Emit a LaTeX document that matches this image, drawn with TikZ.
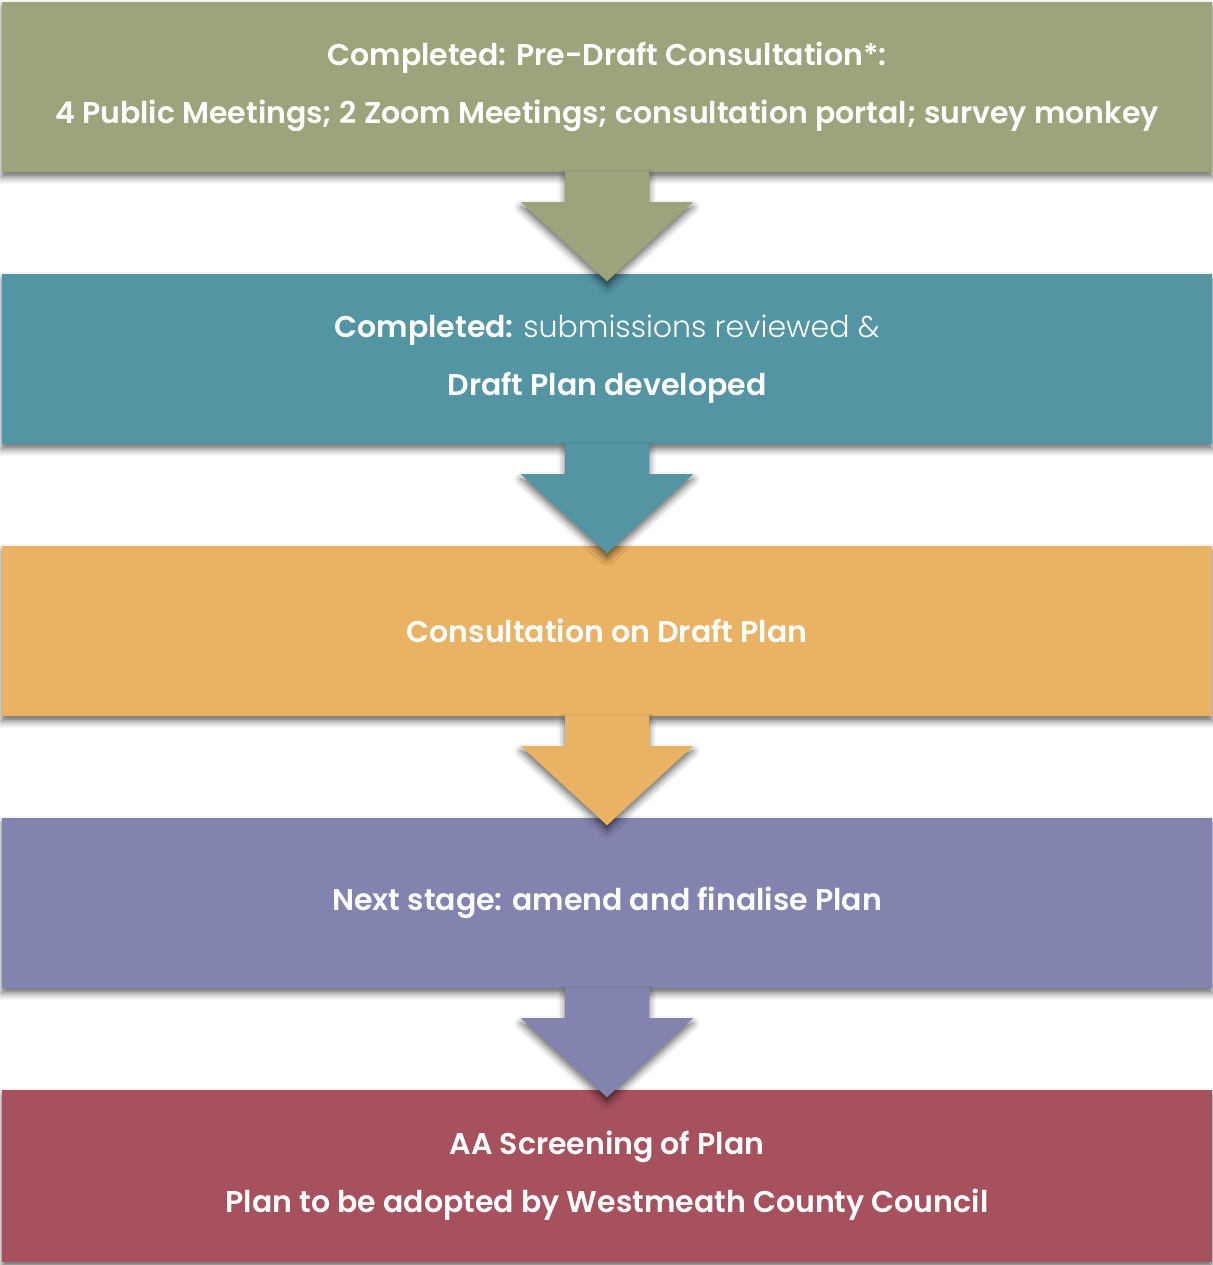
\documentclass[tikz,border=0pt]{standalone}
\usepackage{fontspec}
\setmainfont{Poppins}[BoldFont={Poppins SemiBold}]
\newfontfamily\lightfont{Poppins Light}
\usetikzlibrary{shadows.blur,calc}
\definecolor{cOlive}{RGB}{158,163,123}
\definecolor{cTeal}{RGB}{83,149,163}
\definecolor{cOrange}{RGB}{233,179,99}
\definecolor{cPurple}{RGB}{131,131,176}
\definecolor{cRed}{RGB}{168,81,94}
\tikzset{
  stage/.style={rectangle, minimum width=1210pt, minimum height=170pt, inner sep=0pt,
    fill=#1, text=white, align=center,
    font=\fontsize{30}{58}\selectfont\bfseries,
    blur shadow={shadow xshift=0pt, shadow yshift=-5pt, shadow blur radius=7pt, shadow opacity=60}},
  arrowshape/.style={fill=#1,
    blur shadow={shadow xshift=0pt, shadow yshift=-5pt, shadow blur radius=7pt, shadow opacity=60}}
}
\newcommand{\stagearrow}[3]{%
  \fill[arrowshape=#3] ($(#1.south)+(-42,0)$) -- ($(#1.south)+(42,0)$) -- ($(#1.south)+(42,-30)$)
    -- ($(#1.south)+(86,-30)$) -- ($(#1.south)+(0,-109)$) -- ($(#1.south)+(-86,-30)$)
    -- ($(#1.south)+(-42,-30)$) -- cycle;}
\begin{document}
\begin{tikzpicture}[x=1pt,y=1pt]
\useasboundingbox (0,0) rectangle (1212,-1265);
\node[stage=cOlive] (b1) at (607,-87) {Completed: Pre-Draft Consultation*:\\4 Public Meetings; 2 Zoom Meetings; consultation portal; survey monkey};
\node[stage=cTeal] (b2) at (607,-359) {Completed: {\mdseries\lightfont submissions reviewed \&}\\Draft Plan developed};
\node[stage=cOrange] (b3) at (607,-631) {Consultation on Draft Plan};
\node[stage=cPurple] (b4) at (607,-903) {Next stage: amend and finalise Plan};
\node[stage=cRed, minimum height=172pt] (b5) at (607,-1176) {AA Screening of Plan\\Plan to be adopted by Westmeath County Council};
\stagearrow{b1}{b2}{cOlive}
\stagearrow{b2}{b3}{cTeal}
\stagearrow{b3}{b4}{cOrange}
\stagearrow{b4}{b5}{cPurple}
\end{tikzpicture}
\end{document}
